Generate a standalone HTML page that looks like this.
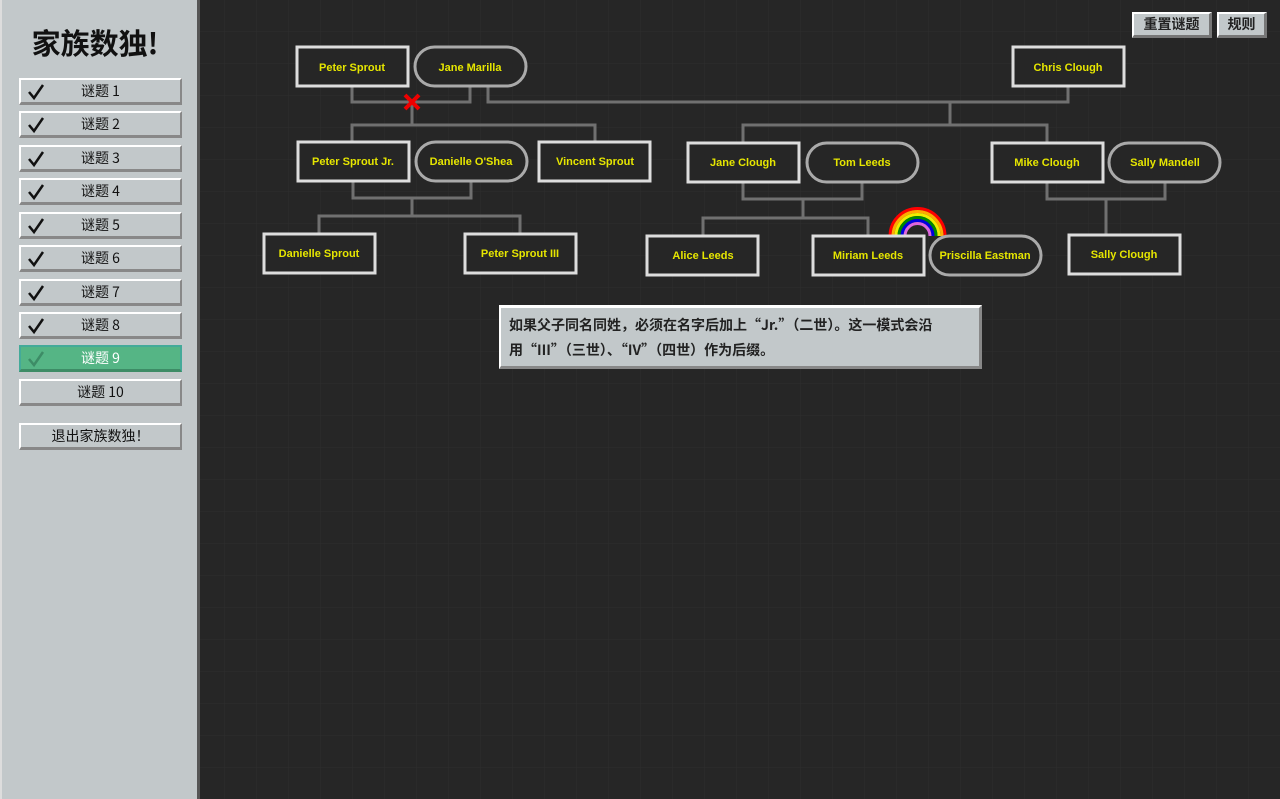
<!DOCTYPE html>
<html><head><meta charset="utf-8"><style>
body{margin:0;width:1280px;height:799px;overflow:hidden;background:#262626;font-family:"Liberation Sans","Noto Sans CJK SC",sans-serif;position:relative}
#side{position:absolute;left:0;top:0;width:200px;height:799px;background:#c2c8ca;border-right:3px solid #555;border-left:2px solid #ddd;box-sizing:border-box}
h1{position:absolute;left:0;width:186px;text-align:center;top:22px;margin:0;font-size:29px;font-weight:bold;color:#111;font-family:"Noto Sans CJK SC",sans-serif;line-height:40px}
.b{position:absolute;left:17px;width:163px;height:27px;box-sizing:border-box;background:#c2c8ca;border-top:2px solid #fff;border-left:2px solid #fff;border-bottom:3px solid #888;border-right:2px solid #888;font-size:14px;color:#111;text-align:center;line-height:22px;font-family:"Noto Sans CJK SC",sans-serif}
.b svg{position:absolute;left:6px;top:3px}
.b.g{background:#55b585;color:#fff;border-color:#4a9;border-bottom-color:#3d8c66}
.tb{position:absolute;top:12px;height:26px;box-sizing:border-box;background:#c2c8ca;border-top:2px solid #fff;border-left:2px solid #fff;border-bottom:3px solid #777;border-right:3px solid #777;font-size:14px;font-weight:bold;text-align:center;line-height:21px;color:#222}
#tip{position:absolute;left:499px;top:305px;width:483px;height:64px;box-sizing:border-box;background:#c2c8ca;border-top:3px solid #fff;border-left:2px solid #fff;border-bottom:3px solid #888;border-right:3px solid #888;font-size:14px;font-weight:bold;color:#222;padding:5px 8px;line-height:25px;white-space:nowrap;font-family:"Noto Sans CJK SC",sans-serif}
svg.m{position:absolute;left:0;top:0}
</style></head><body>
<svg class="m" width="1280" height="799">
<defs><pattern id="gr" width="32" height="32" patternUnits="userSpaceOnUse" x="0" y="-1"><path d="M0 0H32M0 0V32" stroke="#2c2c2c" stroke-width="1.5" fill="none"/></pattern></defs>
<rect width="1280" height="799" fill="url(#gr)"/>
<g stroke="#707070" stroke-width="3" fill="none">
<path d="M352 86V102H470V86"/><path d="M412 102V125M352 142V125H595V142"/>
<path d="M488 86V102H1068V86"/><path d="M950 102V125M743 143V125H1047V143"/>
<path d="M353 181V198H471V181"/><path d="M412 198V216M319 234V216H520V234"/>
<path d="M743 182V199H862V182"/><path d="M803 199V218M703 236V218H868V236"/>
<path d="M1047 182V199H1165V182"/><path d="M1106 199V235"/>
</g>
<g fill="none" stroke-width="3">
<path d="M890 236A27.5 27.5 0 0 1 945 236" stroke="#f00"/>
<path d="M893 236A24.5 24.5 0 0 1 942 236" stroke="#fa0"/>
<path d="M896 236A21.5 21.5 0 0 1 939 236" stroke="#ee0"/>
<path d="M899 236A18.5 18.5 0 0 1 936 236" stroke="#080"/>
<path d="M902 236A15.5 15.5 0 0 1 933 236" stroke="#00d"/>
<path d="M905 236A12.5 12.5 0 0 1 930 236" stroke="#d6d"/>
</g>
<g fill="#262626" stroke-width="3">
<g stroke="#ddd">
<rect x="297" y="47" width="111" height="39"/><rect x="1013" y="47" width="111" height="39"/>
<rect x="298" y="142" width="111" height="39"/><rect x="539" y="142" width="111" height="39"/>
<rect x="688" y="143" width="111" height="39"/><rect x="992" y="143" width="111" height="39"/>
<rect x="264" y="234" width="111" height="39"/><rect x="465" y="234" width="111" height="39"/>
<rect x="647" y="236" width="111" height="39"/><rect x="813" y="236" width="111" height="39"/>
<rect x="1069" y="235" width="111" height="39"/>
</g>
<g stroke="#aaa">
<rect x="415" y="47" width="111" height="39" rx="19.5"/><rect x="416" y="142" width="111" height="39" rx="19.5"/>
<rect x="807" y="143" width="111" height="39" rx="19.5"/><rect x="1109" y="143" width="111" height="39" rx="19.5"/>
<rect x="930" y="236" width="111" height="39" rx="19.5"/>
</g></g>
<g fill="#e6e600" font-size="11" font-weight="bold" text-anchor="middle" font-family="Liberation Sans,sans-serif">
<text x="352" y="71">Peter Sprout</text><text x="470" y="71">Jane Marilla</text><text x="1068" y="71">Chris Clough</text>
<text x="353" y="165">Peter Sprout Jr.</text><text x="471" y="165">Danielle O'Shea</text><text x="595" y="165">Vincent Sprout</text>
<text x="743" y="166">Jane Clough</text><text x="862" y="166">Tom Leeds</text><text x="1047" y="166">Mike Clough</text><text x="1165" y="166">Sally Mandell</text>
<text x="319" y="257">Danielle Sprout</text><text x="520" y="257">Peter Sprout III</text>
<text x="703" y="259">Alice Leeds</text><text x="868" y="259">Miriam Leeds</text><text x="985" y="259">Priscilla Eastman</text><text x="1124" y="258">Sally Clough</text>
</g>
<path d="M405 95L419 109M419 95L405 109" stroke="#e00" stroke-width="4"/>
</svg>
<div id="side">
<h1>家族数独!</h1>
<div class="b" style="top:78px"><svg width="18" height="18"><path d="M2 9L7 15L16 2" stroke="#111" stroke-width="2.5" fill="none"/></svg>谜题 1</div>
<div class="b" style="top:111px"><svg width="18" height="18"><path d="M2 9L7 15L16 2" stroke="#111" stroke-width="2.5" fill="none"/></svg>谜题 2</div>
<div class="b" style="top:145px"><svg width="18" height="18"><path d="M2 9L7 15L16 2" stroke="#111" stroke-width="2.5" fill="none"/></svg>谜题 3</div>
<div class="b" style="top:178px"><svg width="18" height="18"><path d="M2 9L7 15L16 2" stroke="#111" stroke-width="2.5" fill="none"/></svg>谜题 4</div>
<div class="b" style="top:212px"><svg width="18" height="18"><path d="M2 9L7 15L16 2" stroke="#111" stroke-width="2.5" fill="none"/></svg>谜题 5</div>
<div class="b" style="top:245px"><svg width="18" height="18"><path d="M2 9L7 15L16 2" stroke="#111" stroke-width="2.5" fill="none"/></svg>谜题 6</div>
<div class="b" style="top:279px"><svg width="18" height="18"><path d="M2 9L7 15L16 2" stroke="#111" stroke-width="2.5" fill="none"/></svg>谜题 7</div>
<div class="b" style="top:312px"><svg width="18" height="18"><path d="M2 9L7 15L16 2" stroke="#111" stroke-width="2.5" fill="none"/></svg>谜题 8</div>
<div class="b g" style="top:345px"><svg width="18" height="18"><path d="M2 9L7 15L16 2" stroke="#3d8c66" stroke-width="2.5" fill="none"/></svg>谜题 9</div>
<div class="b" style="top:379px">谜题 10</div>
<div class="b" style="top:423px">退出家族数独！</div>
</div>
<div class="tb" style="left:1132px;width:80px">重置谜题</div>
<div class="tb" style="left:1217px;width:50px">规则</div>
<div id="tip">如果父子同名同姓，必须在名字后加上“Jr.”（二世）。这一模式会沿<br>用“III”（三世）、“IV”（四世）作为后缀。</div>
</body></html>
